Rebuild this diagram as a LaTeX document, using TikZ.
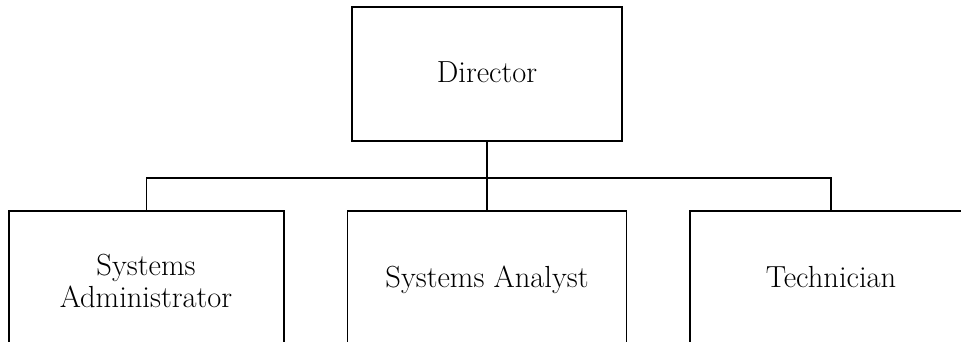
\documentclass[tikz,border=0pt]{standalone}
\usepackage{fontspec}
\begin{document}
\begin{tikzpicture}[x=1pt,y=-1pt,
  box/.style={draw,line width=1.6pt,rectangle,inner sep=0pt},
  lbl/.style={font=\fontsize{30.5}{32}\selectfont,inner sep=0pt,align=center},
  bus/.style={line width=1.4pt},
  stem/.style={line width=2.8pt}]
\useasboundingbox (0,0) rectangle (961,342);
\clip (0,0) rectangle (961,342);
% boxes
\node[box,minimum width=270pt,minimum height=134pt] (dir) at (487,74) {};
\node[box,minimum width=275pt,minimum height=200pt] (adm) at (146.5,311) {};
\node[box,minimum width=279pt,minimum height=200pt] (ana) at (487,311) {};
\node[box,minimum width=282pt,minimum height=200pt] (tec) at (831,311) {};
% labels
\node[lbl,anchor=base] (tdir) at (487,83) {Director};
\node[lbl] (tadm) at (146,281) {Systems\\Administrator};
\node[lbl,anchor=base] (tana) at (487,287) {Systems Analyst};
\node[lbl,anchor=base] (ttec) at (831,287) {Technician};
% connectors
\coordinate (j) at (487,178);
\draw[stem] (dir.south) -- (j);
\draw[bus] (adm.north) |- (j) -| (tec.north);
\draw[bus] (j) -- (ana.north);
\end{tikzpicture}
\end{document}
